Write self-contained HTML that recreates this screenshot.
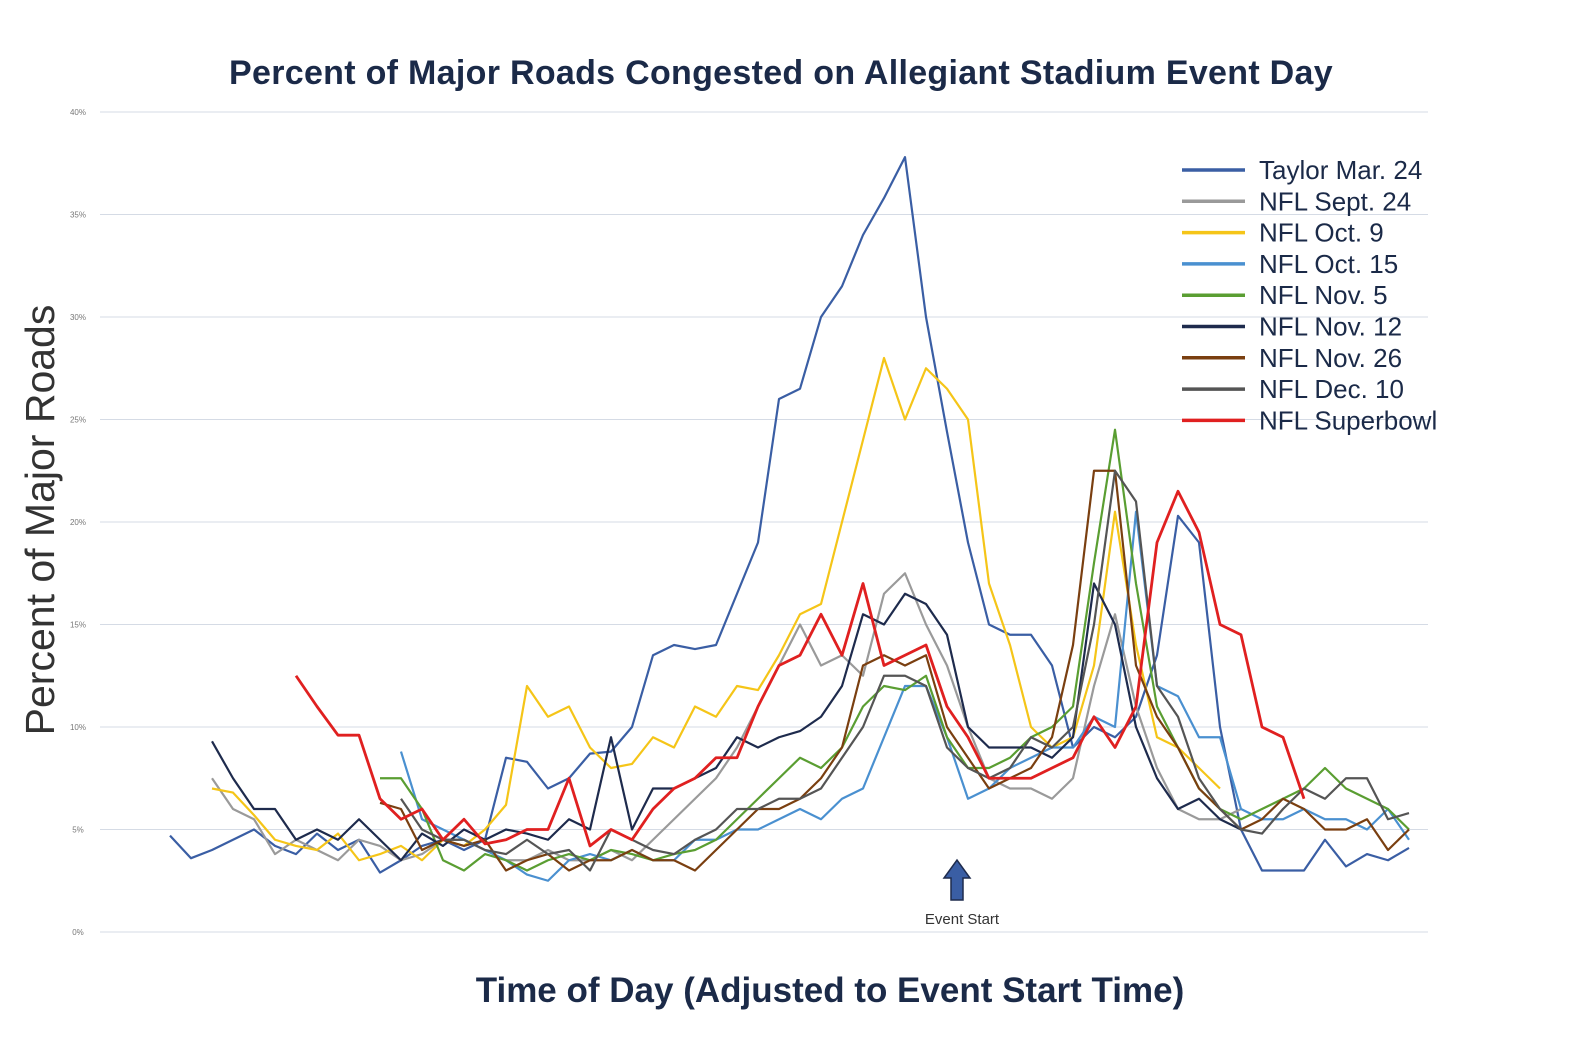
<!DOCTYPE html>
<html><head><meta charset="utf-8"><style>
body{margin:0;background:#fff;}
svg{display:block;font-family:"Liberation Sans",sans-serif;}
</style></head><body>
<svg id="chart" width="1579" height="1055">
<text x="781" y="84" text-anchor="middle" font-size="34" font-weight="bold" fill="#1b2a48" letter-spacing="0.3">Percent of Major Roads Congested on Allegiant Stadium Event Day</text>
<g id="grid"></g>
<g id="yticks"></g>
<g id="series"></g>
<g id="legend"></g>
<text transform="translate(54,520) rotate(-90)" text-anchor="middle" font-size="41" fill="#333">Percent of Major Roads</text>
<text x="830" y="1002" text-anchor="middle" font-size="35" font-weight="bold" fill="#1b2a48">Time of Day (Adjusted to Event Start Time)</text>
<g>
<path d="M951,900 L951,878 L944,878 L957,860 L970,878 L963,878 L963,900 Z" fill="#3a5ea4" stroke="#1e2b4d" stroke-width="1.5"/>
<text x="962" y="924" text-anchor="middle" font-size="15" fill="#333">Event Start</text>
</g>
</svg>
<script>
const yTicks=[0,5,10,15,20,25,30,35,40];
const yTickLabels=["0%","5%","10%","15%","20%","25%","30%","35%","40%"];
const seriesNames=["Taylor Mar. 24","NFL Sept. 24","NFL Oct. 9","NFL Oct. 15","NFL Nov. 5","NFL Nov. 12","NFL Nov. 26","NFL Dec. 10","NFL Superbowl"];
const seriesStart=[0,2,2,11,10,2,10,11,6];
const taylor=[4.7,3.6,4.0,4.5,5,4.2,3.8,4.8,4.0,4.5,2.9,3.5,4.2,4.5,4.0,4.5,8.5,8.3,7,7.5,8.7,8.8,10,13.5,14,13.8,14,16.5,19,26,26.5,30,31.5,34,35.8,37.8,30,24.4,19,15,14.5,14.5,13,9,10,9.5,10.5,13.5,20.3,19,10,5,3,3,3,4.5,3.2,3.8,3.5,4.1];
const sept24=[7.5,6,5.5,3.8,4.5,4,3.5,4.5,4.2,3.5,3.8,4.5,4.5,4,3.5,3.5,4,3.5,3.5,4,3.5,4.5,5.5,6.5,7.5,9,11,13,15,13,13.5,12.5,16.5,17.5,15,13,10,7.5,7,7,6.5,7.5,12,15.5,11,8,6,5.5,5.5,6];
const oct9=[7.0,6.8,5.7,4.5,4.2,4.0,4.8,3.5,3.8,4.2,3.5,4.5,4.2,5,6.2,12,10.5,11,9,8.0,8.2,9.5,9.0,11,10.5,12,11.8,13.5,15.5,16,20,24,28,25,27.5,26.5,25,17,14,10,9,9.5,13,20.5,14,9.5,9,8,7];
const oct15=[8.8,5.5,5,4.5,4,3.5,2.8,2.5,3.5,3.8,3.5,4,3.5,3.5,4.5,4.5,5,5,5.5,6,5.5,6.5,7,9.5,12,12,9.5,6.5,7,8,8.5,9,9,10.5,10,20.5,12,11.5,9.5,9.5,6,5.5,5.5,6,5.5,5.5,5,6,4.5];
const nov5=[7.5,7.5,6,3.5,3,3.8,3.5,3,3.5,3.8,3.5,4,3.8,3.5,3.8,4,4.5,5.5,6.5,7.5,8.5,8,9,11,12,11.8,12.5,9.5,8,8,8.5,9.5,10,11,18,24.5,17,11,9,7,6,5.5,6,6.5,7,8,7,6.5,6,5];
const nov12=[9.3,7.5,6,6,4.5,5,4.5,5.5,4.5,3.5,4.8,4.2,5,4.5,5,4.8,4.5,5.5,5,9.5,5,7,7,7.5,8,9.5,9,9.5,9.8,10.5,12,15.5,15,16.5,16,14.5,10,9,9,9,8.5,9.5,17,15,10,7.5,6,6.5,5.5,5];
const nov26=[6.3,6,4,4.5,4.2,4.5,3,3.5,3.8,3,3.5,3.5,4,3.5,3.5,3,4,5,6,6,6.5,7.5,9,13,13.5,13,13.5,10,8.5,7,7.5,8,9.5,14,22.5,22.5,13,10.5,9,7,6,5,5.5,6.5,6,5,5,5.5,4,5];
const dec10=[6.5,5,4.5,4.5,4,3.8,4.5,3.8,4,3,5,4.5,4,3.8,4.5,5,6,6,6.5,6.5,7,8.5,10,12.5,12.5,12,9,8,7.5,8,9.5,9,10,15,22.5,21,12,10.5,7.5,6,5,4.8,6,7,6.5,7.5,7.5,5.5,5.8];
const superbowl=[12.5,11,9.6,9.6,6.5,5.5,6,4.5,5.5,4.3,4.5,5,5,7.5,4.2,5,4.5,6,7,7.5,8.5,8.5,11,13,13.5,15.5,13.5,17,13,13.5,14,11,9.5,7.5,7.5,7.5,8,8.5,10.5,9,11,19,21.5,19.5,15,14.5,10,9.5,6.5];
const seriesData=[taylor,sept24,oct9,oct15,nov5,nov12,nov26,dec10,superbowl];
const colors=["#3a5ea4","#9a9a9a","#f5c518","#4a90d0","#5a9e32","#1e2b4d","#7a3f10","#555555","#e02020"];
const ns="http://www.w3.org/2000/svg";
const X0=170,DX=21,Y0=932,YPX=20.5;
const xScale=i=>X0+i*DX;
const yScale=v=>Y0-v*YPX;
const grid=document.getElementById('grid'),yt=document.getElementById('yticks');
yTicks.forEach((t,k)=>{
 const l=document.createElementNS(ns,'line');
 l.setAttribute('x1',100);l.setAttribute('x2',1428);
 l.setAttribute('y1',yScale(t));l.setAttribute('y2',yScale(t));
 l.setAttribute('stroke','#d5dbe5');l.setAttribute('stroke-width','1');
 
 
 grid.appendChild(l);
 const tx=document.createElementNS(ns,'text');
 tx.setAttribute('x',78);tx.setAttribute('y',yScale(t)+3);
 tx.setAttribute('font-size','8');tx.setAttribute('fill','#777');tx.setAttribute('text-anchor','middle');
 tx.textContent=yTickLabels[k];
 
 
 yt.appendChild(tx);
});
const sg=document.getElementById('series');
seriesData.forEach((d,s)=>{
 const p=document.createElementNS(ns,'polyline');
 p.setAttribute('points',d.map((v,i)=>xScale(seriesStart[s]+i)+','+yScale(v)).join(' '));
 p.setAttribute('fill','none');p.setAttribute('stroke',colors[s]);
 p.setAttribute('stroke-width',s==8?'2.8':'2.2');p.setAttribute('stroke-linejoin','round');
 
 
 sg.appendChild(p);
});
const lg=document.getElementById('legend');
seriesNames.forEach((n,s)=>{
 const y=170+s*31.3;
 const g=document.createElementNS(ns,'g');
 
 
 const l=document.createElementNS(ns,'line');
 l.setAttribute('x1',1182);l.setAttribute('x2',1245);l.setAttribute('y1',y);l.setAttribute('y2',y);
 l.setAttribute('stroke',colors[s]);l.setAttribute('stroke-width','3.5');
 g.appendChild(l);
 const t=document.createElementNS(ns,'text');
 t.setAttribute('x',1259);t.setAttribute('y',y+9);t.setAttribute('font-size','26');t.setAttribute('fill','#1b2a48');
 t.textContent=n;
 g.appendChild(t);
 lg.appendChild(g);
});
</script>
</body></html>
